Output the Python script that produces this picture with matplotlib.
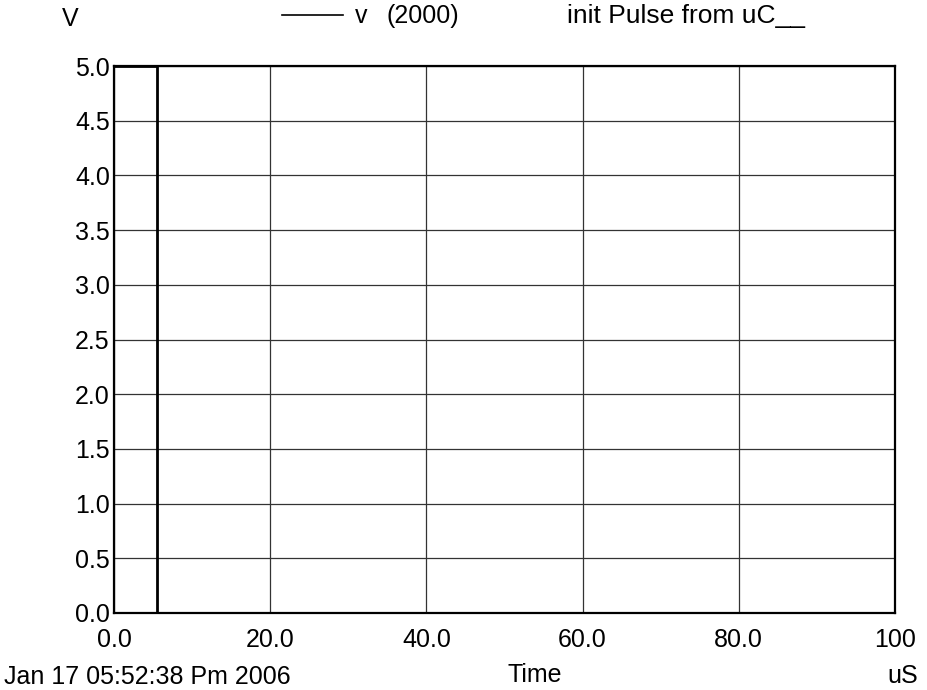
import numpy as np
import matplotlib.pyplot as plt
from matplotlib.lines import Line2D

# pulse trace "v (2000)", time in uS, volts
t_us = [0.0, 5.5, 5.5, 100.0]
v_volts = [5.0, 5.0, 0.0, 0.0]

x_ticks = [0, 20, 40, 60, 80, 100]
x_labels = ["0.0", "20.0", "40.0", "60.0", "80.0", "100"]
y_ticks = [0.0, 0.5, 1.0, 1.5, 2.0, 2.5, 3.0, 3.5, 4.0, 4.5, 5.0]
y_labels = ["%.1f" % v for v in y_ticks]

plt.rcParams['font.family'] = ['Liberation Sans', 'DejaVu Sans']

W, H = 927, 690
fs = 18
fig = plt.figure(figsize=(W / 100, H / 100), dpi=100)

# axes box in pixels: left 114, right 895, top 66, bottom 613
ax = fig.add_axes([114 / W, 1 - 613 / H, (895 - 114) / W, (613 - 66) / H])
ax.plot(t_us, v_volts, color='black', linewidth=2.0, zorder=3)

ax.set_xlim(0, 100)
ax.set_ylim(0, 5)
ax.set_xticks(x_ticks)
ax.set_xticklabels(x_labels)
ax.set_yticks(y_ticks)
ax.set_yticklabels(y_labels)
ax.tick_params(axis='both', length=0, labelsize=fs)
ax.tick_params(axis='x', pad=11)
ax.tick_params(axis='y', pad=3)
ax.grid(True, color='#333333', linewidth=0.9)
for s in ax.spines.values():
    s.set_linewidth(1.6)
    s.set_color('black')

def px(x, y):
    return x / W, 1 - y / H

# header: legend entry and title
fig.add_artist(Line2D([282 / W, 343 / W], [1 - 15 / H, 1 - 15 / H],
                      color='black', linewidth=1.2))
fig.text(*px(355, 16), "v", fontsize=fs, va='center', ha='left')
fig.text(*px(386, 16), "(2000)", fontsize=fs, va='center', ha='left')
fig.text(*px(567, 16), "init Pulse from uC__", fontsize=19, va='center', ha='left')

fig.text(*px(70, 19), "V", fontsize=fs, va='center', ha='center')
fig.text(*px(4, 677), "Jan 17 05:52:38 Pm 2006", fontsize=fs, va='center', ha='left')
fig.text(*px(535, 675), "Time", fontsize=fs, va='center', ha='center')
fig.text(*px(903, 676), "uS", fontsize=fs, va='center', ha='center')

fig.savefig("out.png", dpi=100)
